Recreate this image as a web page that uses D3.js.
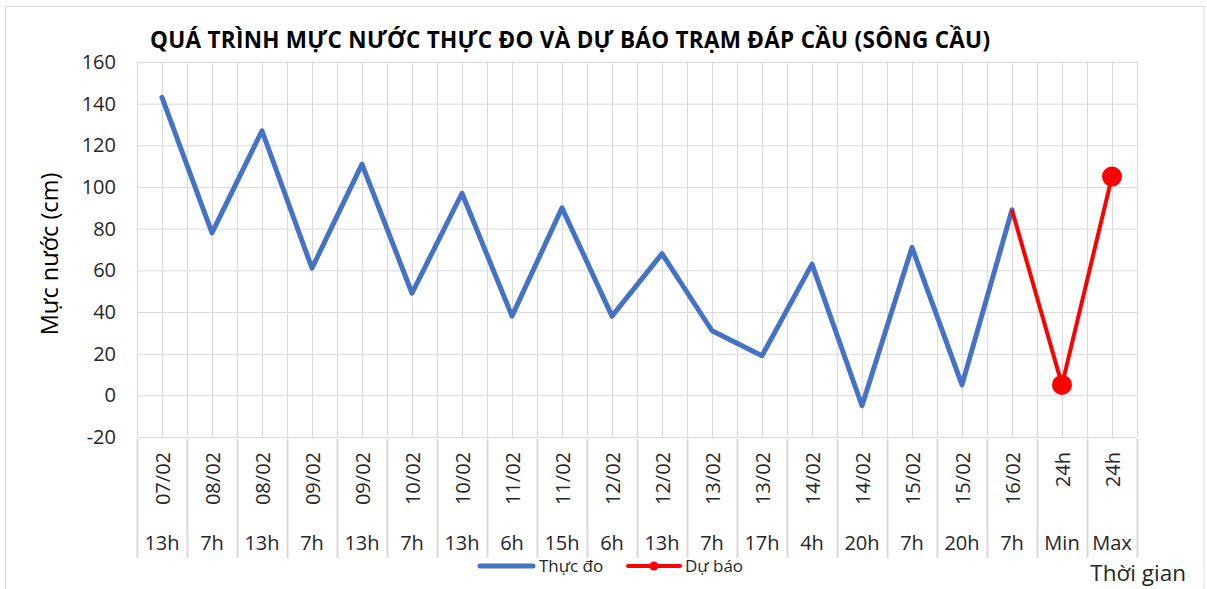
<!DOCTYPE html>
<html lang="vi">
  <head>
    <meta charset="UTF-8" />
    <title>Mực nước trạm Đáp Cầu</title>
    <script src="https://cdn.jsdelivr.net/npm/d3@7"></script>
    <style>
      body { margin: 0; background: #fff; }
      text { font-family: "Open Sans", Lato, sans-serif; fill: #262626; }
      .grid line { stroke: #d9d9d9; stroke-width: 1px; }
      .measured { fill: none; stroke: #4472c4; stroke-width: 5px; stroke-linejoin: round; stroke-linecap: round; }
      .forecast { fill: none; stroke: #ff0000; stroke-width: 4px; stroke-linejoin: round; }
    </style>
  </head>
  <body>
    <script>
      // categories (two label rows) and values
      var dateLabels = ["07/02","08/02","08/02","09/02","09/02","10/02","10/02","11/02","11/02","12/02",
                        "12/02","13/02","13/02","14/02","14/02","15/02","15/02","16/02","24h","24h"];
      var timeLabels = ["13h","7h","13h","7h","13h","7h","13h","6h","15h","6h",
                        "13h","7h","17h","4h","20h","7h","20h","7h","Min","Max"];
      var measured = [143,78,127,61,111,49,97,38,90,38,68,31,19,63,-5,71,5,89,null,null];
      var forecast = [null,null,null,null,null,null,null,null,null,null,
                      null,null,null,null,null,null,null,89,5,105];
      var forecastMarkers = [false,false,false,false,false,false,false,false,false,false,
                             false,false,false,false,false,false,false,false,true,true];
      var yTicks = [-20,0,20,40,60,80,100,120,140,160];

      var w = 1207, h = 589;
      var margin = { top: 62, right: 70, bottom: 152, left: 137 };
      var plotW = w - margin.left - margin.right,
          plotH = h - margin.top - margin.bottom;

      var svg = d3.select("body").append("svg")
        .attr("width", w)
        .attr("height", h);

      // outer chart border
      svg.append("rect")
        .attr("x", 5.5).attr("y", 6.5)
        .attr("width", w - 3 - 5.5).attr("height", h - 6)
        .attr("fill", "none")
        .attr("stroke", "#d9d9d9");

      var idx = d3.range(dateLabels.length);

      var xScale = d3.scaleBand()
        .domain(idx)
        .range([0, plotW]);
      var bw = xScale.bandwidth();
      function cx(i) { return xScale(i) + bw / 2; }

      var yScale = d3.scaleLinear()
        .domain([-20, 160])
        .range([plotH, 0]);

      var g = svg.append("g")
        .attr("transform", "translate(" + margin.left + "," + margin.top + ")");

      // horizontal grid + tick labels
      var yAxis = d3.axisLeft(yScale)
        .tickValues(yTicks)
        .tickSize(-plotW)
        .tickPadding(21)
        .tickFormat(function(d) { return String(d); });

      g.append("g")
        .attr("class", "grid")
        .call(yAxis)
        .call(function(s) {
          s.select(".domain").remove();
          s.selectAll("text")
            .attr("font-family", "'Open Sans', sans-serif")
            .attr("font-size", "20px")
            .style("fill", "#262626");
        });

      // vertical grid: band edges and band centres
      var vLines = [];
      idx.forEach(function(i) { vLines.push(xScale(i)); vLines.push(cx(i)); });
      vLines.push(plotW);
      g.append("g")
        .attr("class", "grid")
        .selectAll("line")
        .data(vLines)
        .enter()
        .append("line")
        .attr("x1", function(d) { return d + 0.5; })
        .attr("x2", function(d) { return d + 0.5; })
        .attr("y1", 0)
        .attr("y2", plotH);

      // category box separators below the plot
      var sepLines = idx.map(function(i) { return xScale(i); });
      sepLines.push(plotW);
      g.append("g")
        .selectAll("line")
        .data(sepLines)
        .enter()
        .append("line")
        .attr("x1", function(d) { return d + 0.5; })
        .attr("x2", function(d) { return d + 0.5; })
        .attr("y1", plotH + 2)
        .attr("y2", plotH + 121)
        .attr("stroke", "#d9d9d9")
        .attr("stroke-width", 2);

      // date labels (rotated)
      g.append("g")
        .selectAll("text")
        .data(idx)
        .enter()
        .append("text")
        .attr("transform", function(i) { return "translate(" + (cx(i) + 8) + "," + (plotH + 15) + ") rotate(-90)"; })
        .attr("text-anchor", "end")
        .attr("font-size", "20px")
        .text(function(i) { return dateLabels[i]; });

      // time labels
      g.append("g")
        .selectAll("text")
        .data(idx)
        .enter()
        .append("text")
        .attr("x", function(i) { return cx(i); })
        .attr("y", plotH + 113)
        .attr("text-anchor", "middle")
        .attr("font-size", "20px")
        .text(function(i) { return timeLabels[i]; });

      var line = d3.line()
        .defined(function(d) { return d != null; })
        .x(function(d, i) { return cx(i); })
        .y(function(d) { return yScale(d); });

      g.append("path")
        .datum(measured)
        .attr("class", "measured")
        .attr("d", line);

      g.append("path")
        .datum(forecast)
        .attr("class", "forecast")
        .attr("d", line);

      g.append("g")
        .selectAll("circle")
        .data(idx.filter(function(i) { return forecastMarkers[i]; }))
        .enter()
        .append("circle")
        .attr("cx", function(i) { return cx(i); })
        .attr("cy", function(i) { return yScale(forecast[i]); })
        .attr("r", 10)
        .attr("fill", "#ff0000");

      // title
      svg.append("text")
        .attr("x", 570)
        .attr("y", 48)
        .attr("text-anchor", "middle")
        .attr("font-size", "22.5px")
        .attr("font-weight", "bold")
        .attr("textLength", 840)
        .attr("lengthAdjust", "spacing")
        .style("fill", "#000")
        .text("QUÁ TRÌNH MỰC NƯỚC THỰC ĐO VÀ DỰ BÁO TRẠM ĐÁP CẦU (SÔNG CẦU)");

      // y axis title
      svg.append("text")
        .attr("transform", "translate(58," + 254 + ") rotate(-90)")
        .attr("text-anchor", "middle")
        .attr("font-size", "23.5px")
        .style("fill", "#000")
        .text("Mực nước (cm)");

      // x axis title
      svg.append("text")
        .attr("x", 1186)
        .attr("y", 581)
        .attr("text-anchor", "end")
        .attr("font-size", "22.5px")
        .text("Thời gian");

      // legend
      var leg = svg.append("g").attr("transform", "translate(0,566)");
      leg.append("line")
        .attr("x1", 480).attr("x2", 533).attr("y1", 0).attr("y2", 0)
        .attr("stroke", "#4472c4").attr("stroke-width", 5).attr("stroke-linecap", "round");
      leg.append("text")
        .attr("x", 539).attr("y", 6)
        .attr("font-size", "17px")
        .text("Thực đo");
      leg.append("line")
        .attr("x1", 628).attr("x2", 680).attr("y1", 0).attr("y2", 0)
        .attr("stroke", "#ff0000").attr("stroke-width", 4).attr("stroke-linecap", "round");
      leg.append("circle")
        .attr("cx", 654).attr("cy", 0).attr("r", 4.5)
        .attr("fill", "#ff0000");
      leg.append("text")
        .attr("x", 685).attr("y", 6)
        .attr("font-size", "17px")
        .text("Dự báo");
    </script>
  </body>
</html>
